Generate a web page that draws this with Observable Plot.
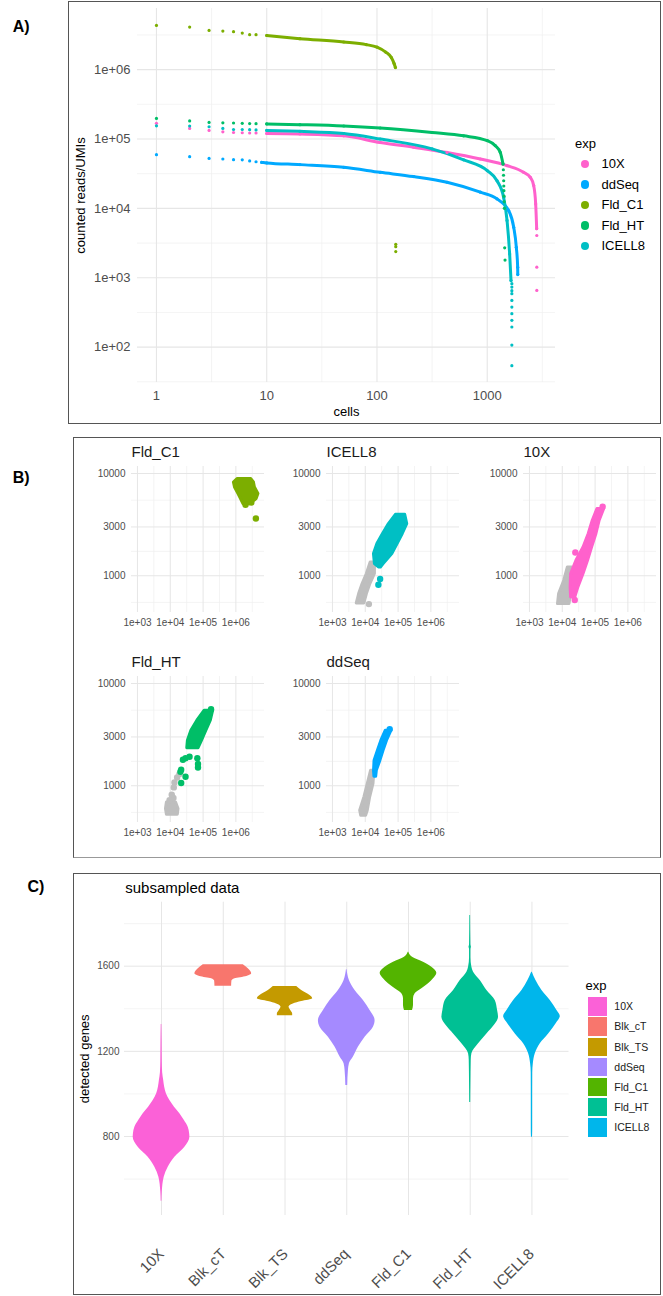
<!DOCTYPE html>
<html><head><meta charset="utf-8">
<script src="https://cdn.jsdelivr.net/npm/d3@7"></script>
<script src="https://cdn.jsdelivr.net/npm/@observablehq/plot@0.6"></script>
<style>
body{margin:0;background:#fff;font-family:"Liberation Sans",Arial,Helvetica,sans-serif;}
#page{position:relative;width:663px;height:1296px;overflow:hidden;background:#fff;}
.box{position:absolute;border:1.5px solid #555;box-sizing:border-box;}
.lab{position:absolute;font-weight:bold;font-size:16px;line-height:16px;color:#000;}
.t{position:absolute;white-space:nowrap;color:#000;}
</style></head><body><div id="page"></div>
<script>
// ---------- Panel A data: counted reads/UMIs by cell rank ----------
const expsA = ["10X","ddSeq","Fld_C1","Fld_HT","ICELL8"];
const colorsA = ["#FF61CC","#00A9FF","#7CAE00","#00BE67","#00BFC4"];
const xTicksA = [1,10,100,1000];
const xMinorA = [3.162,31.62,316.2,3162];
const yTicksA = [1e2,1e3,1e4,1e5,1e6];
const yMinorA = [31.62,316.2,3162,31623,316228,3162278];

const rank10X = [1,2,3,4,5,6,7,8,10,20,50,107,215,432,866,1512,2138,2460,2638,2750,2808];
const umi10X  = [1.68e5,1.42e5,1.33e5,1.27e5,1.24e5,1.23e5,1.22e5,1.22e5,1.2e5,1.18e5,1.11e5,8.9e4,7.6e4,6.4e4,5.15e4,4.13e4,3.31e4,2.8e4,2.13e4,1.16e4,5.1e3];
const rank10XTail = [2815,2815,2815];
const umi10XTail  = [4060,1420,656];

const rankDdSeq = [1,2,3,4,5,6,7,8,9,10,20,50,107,215,432,866,1227,1563,1738,1836,1888,1892];
const umiDdSeq  = [5.95e4,5.56e4,5.25e4,5.15e4,5.04e4,5.0e4,4.82e4,4.7e4,4.6e4,4.52e4,4.27e4,3.9e4,3.31e4,2.87e4,2.38e4,1.71e4,1.37e4,9.3e3,5.35e3,2.75e3,1.42e3,1.11e3];

const rankFldC1 = [1,2,3,4,5,6,7,8,10,20,50,80,100,120,135,143,147];
const umiFldC1  = [4.34e6,4.1e6,3.67e6,3.59e6,3.52e6,3.36e6,3.19e6,3.19e6,3.1e6,2.79e6,2.5e6,2.29e6,2.11e6,1.79e6,1.49e6,1.22e6,1.07e6];
const rankFldC1Tail = [148,148,148];
const umiFldC1Tail  = [3030,2800,2380];

const rankFldHT = [1,2,3,4,5,6,7,8,10,20,50,107,316,611,1000,1184,1314,1390];
const umiFldHT  = [1.98e5,1.82e5,1.73e5,1.71e5,1.7e5,1.68e5,1.67e5,1.66e5,1.65e5,1.61e5,1.54e5,1.44e5,1.24e5,1.11e5,9.46e4,8.0e4,6.4e4,4.37e4];
const rankFldHTTail = [1400,1405,1410,1413,1416,1420,1425,1430,1440,1450];
const umiFldHTTail  = [3.6e4,3.0e4,2.5e4,2.1e4,1.8e4,1.5e4,1.25e4,1.0e4,2.7e3,1.8e3];

const rankIcell8 = [1,2,3,4,5,6,7,8,10,20,50,107,316,611,1000,1227,1408,1512,1597,1643];
const umiIcell8  = [1.55e5,1.54e5,1.5e5,1.42e5,1.37e5,1.37e5,1.36e5,1.35e5,1.33e5,1.29e5,1.2e5,1.0e5,7.2e4,5.0e4,3.5e4,2.5e4,1.44e4,6.7e3,2.2e3,910];
const rankIcell8Tail = [1672,1672,1672,1672,1672,1672,1672,1672,1672,1672,1672];
const umiIcell8Tail  = [820,733,650,589,471,378,303,243,195,107,54];

// ---------- Panel B data: detected genes vs reads ----------
// blobs: [genes, lowest reads, highest reads]; dots: [reads, genes]
const bXTicks = [1e3,1e4,1e5,1e6];
const bXMinor = [3162,31623,316228,3162278];
const bYTicks = [1000,3000,10000];
const bYMinor = [548,1732,5477];

const fldC1Blob = [[5010,1.7e6,2.75e6],[5620,1.43e6,4.29e6],[6290,1.2e6,4.86e6],[7300,9.4e5,3.8e6],[8160,8.7e5,3.55e6],[8810,1.12e6,2.95e6]];
const fldC1Dots = [[2.95e6,5210],[1.97e6,4940],[4.07e6,3630]];

const icell8Blob = [[1205,2.6e4,3.0e4],[1300,1.97e4,3.63e4],[1630,1.84e4,6.68e4],[2040,2.34e4,9.66e4],[2560,3.47e4,1.39e5],[3200,5.25e4,1.9e5],[3945,8.57e4,1.65e5]];
const icell8Dots = [[2.84e4,929],[2.51e4,817]];
const icell8GreyBlob = [[536,5.5e3,9.4e3],[662,6.5e3,1.12e4],[830,8.3e3,1.43e4],[1040,1.12e4,1.97e4],[1350,1.46e4,1.97e4]];
const icell8GreyDots = [[1.29e4,528]];

const tenxBlob = [[614,1.86e4,2.5e4],[770,1.8e4,3.1e4],[1040,1.86e4,4.45e4],[1400,2.7e4,6.1e4],[1890,4.45e4,8.1e4],[2560,6.4e4,1.1e5],[3450,8.5e4,1.38e5],[4490,1.18e5,1.9e5]];
const tenxDots = [[1.7e5,4720],[2.4e4,580],[2.5e4,1690]];
const tenxGreyBlob = [[528,7.4e3,1.66e4],[662,8e3,1.86e4],[893,1.15e4,1.86e4],[1205,1.48e4,2e4]];
const tenxGreyDots = [];

const fldHTBlob = [[2330,3.3e4,7.3e4],[2760,3.45e4,9.3e4],[3450,4.4e4,1.26e5],[4320,6.7e4,1.72e5],[5410,1.12e5,2.03e5]];
const fldHTDots = [[2.43e4,1795],[2.92e4,1862],[3.87e4,1918],[6.68e4,1862],[7.0e4,1629],[7.0e4,1510],[2.15e4,1432],[2.04e4,1370],[2.92e4,1225],[2.15e4,1062],[1.75e5,5600]];
const fldHTGreyBlob = [[521,7.9e3,1.7e4],[592,7.4e3,1.78e4],[687,7.9e3,1.5e4]];
const fldHTGreyDots = [[1.9e4,1300],[1.62e4,1205],[1.34e4,1077],[1.28e4,963],[1.11e4,817],[1.25e4,760],[9.5e3,720]];

const ddSeqBlob = [[1225,1.9e4,2.15e4],[1400,1.85e4,2.25e4],[1760,1.92e4,2.9e4],[2200,2.43e4,3.6e4],[2760,3.1e4,4.6e4],[3450,4.2e4,6.3e4]];
const ddSeqDots = [[5.56e4,3580]];
const ddSeqGreyBlob = [[509,7.5e3,1.06e4],[570,7e3,1.19e4],[770,9.4e3,1.41e4],[1040,1.19e4,1.78e4],[1400,1.5e4,1.9e4]];
const ddSeqGreyDots = [];

// ---------- Panel C data: violin profiles [detected genes, relative half width] ----------
const catsC = ["10X","Blk_cT","Blk_TS","ddSeq","Fld_C1","Fld_HT","ICELL8"];
const colorsC = ["#FB61D7","#F8766D","#C49A00","#A58AFF","#53B400","#00C094","#00B6EB"];
const yTicksC = [800,1200,1600];
const yMinorC = [600,1000,1400,1800];
const violin10X = [[496,0.006],[540,0.012],[609,0.043],[656,0.108],[703,0.216],[750,0.378],[797,0.459],[813,0.455],[844,0.432],[875,0.37],[907,0.297],[938,0.21],[969,0.135],[1000,0.08],[1032,0.05],[1063,0.035],[1100,0.018],[1150,0.012],[1250,0.009],[1326,0.005]];
const violinBlkCT = [[1506,0.135],[1530,0.14],[1541,0.19],[1552,0.38],[1564,0.46],[1588,0.405],[1607,0.324]];
const violinBlkTS = [[1367,0.124],[1376,0.124],[1392,0.092],[1408,0.065],[1423,0.135],[1434,0.27],[1447,0.449],[1462,0.405],[1486,0.27],[1505,0.19]];
const violinDdSeq = [[1040,0.015],[1110,0.027],[1142,0.043],[1173,0.108],[1220,0.19],[1266,0.297],[1313,0.432],[1345,0.459],[1392,0.378],[1439,0.27],[1486,0.135],[1533,0.043],[1583,0.005]];
const violinFldC1 = [[1392,0.065],[1415,0.081],[1447,0.081],[1470,0.108],[1494,0.216],[1517,0.324],[1541,0.405],[1567,0.459],[1595,0.378],[1619,0.243],[1642,0.065],[1666,0.005]];
const violinFldHT = [[960,0.008],[1050,0.011],[1158,0.016],[1189,0.027],[1236,0.135],[1282,0.27],[1321,0.389],[1360,0.459],[1392,0.443],[1439,0.405],[1486,0.27],[1533,0.162],[1572,0.054],[1595,0.027],[1640,0.011],[1680,0.011],[1689,0.02],[1700,0.011],[1838,0.006]];
const violinIcell8 = [[797,0.008],[830,0.011],[969,0.011],[1100,0.012],[1142,0.022],[1189,0.054],[1236,0.135],[1282,0.27],[1329,0.389],[1364,0.459],[1392,0.405],[1439,0.297],[1486,0.162],[1533,0.065],[1572,0.005]];

// ---------- build ----------
const page = document.getElementById("page");
const FONT = "'Liberation Sans', Arial, Helvetica, sans-serif";
const GRID = "#e6e6e6", GRIDMINOR = "#efefef", TICK = "#4d4d4d";
function place(el, left, top){ el.style.position="absolute"; el.style.left=left+"px"; el.style.top=top+"px"; el.style.maxWidth="none"; page.appendChild(el); return el; }
const sci = d => "1e+0" + Math.round(Math.log10(d));
const rowsOf = (exp, ranks, vals) => ranks.map((r,i) => ({exp, rank: r, v: vals[i]}));

const mainA = [
  ...rowsOf("10X", rank10X, umi10X),
  ...rowsOf("ddSeq", rankDdSeq, umiDdSeq),
  ...rowsOf("Fld_C1", rankFldC1, umiFldC1),
  ...rowsOf("Fld_HT", rankFldHT, umiFldHT),
  ...rowsOf("ICELL8", rankIcell8, umiIcell8)
];
const tailA = [
  ...rowsOf("10X", rank10XTail, umi10XTail),
  ...rowsOf("Fld_C1", rankFldC1Tail, umiFldC1Tail),
  ...rowsOf("Fld_HT", rankFldHTTail, umiFldHTTail),
  ...rowsOf("ICELL8", rankIcell8Tail, umiIcell8Tail)
];

const plotA = Plot.plot({
  width: 663, height: 424, marginLeft: 137, marginRight: 108, marginTop: 8, marginBottom: 42,
  style: {fontFamily: FONT, background: "none", overflow: "visible"},
  x: {type: "log", domain: [0.673, 4160], axis: null},
  y: {type: "log", domain: [30.9, 7.6e6], axis: null},
  color: {domain: expsA, range: colorsA},
  marks: [
    Plot.ruleX(xMinorA, {x: d => d, stroke: GRIDMINOR, strokeWidth: 0.7}),
    Plot.ruleY(yMinorA, {y: d => d, stroke: GRIDMINOR, strokeWidth: 0.7}),
    Plot.ruleX(xTicksA, {x: d => d, stroke: GRID, strokeWidth: 1.1}),
    Plot.ruleY(yTicksA, {y: d => d, stroke: GRID, strokeWidth: 1.1}),
    Plot.text(xTicksA, {x: d => d, frameAnchor: "bottom", dy: 13, lineAnchor: "middle", textAnchor: "middle", text: d => String(d), fontSize: 13, fill: TICK}),
    Plot.text(yTicksA, {y: d => d, frameAnchor: "left", dx: -7, lineAnchor: "middle", textAnchor: "end", text: sci, fontSize: 13, fill: TICK}),
    Plot.text(["cells"], {frameAnchor: "bottom", dy: 29, lineAnchor: "middle", textAnchor: "middle", text: d => d, fontSize: 13, fill: "#000"}),
    Plot.text(["counted reads/UMIs"], {frameAnchor: "left", dx: -57, rotate: -90, lineAnchor: "middle", textAnchor: "middle", text: d => d, fontSize: 13, fill: "#000"}),
    Plot.line(mainA, {filter: d => d.rank >= 9, x: "rank", y: "v", z: "exp", stroke: "exp", strokeWidth: 3, curve: "monotone-x"}),
    Plot.dot(mainA, {x: "rank", y: "v", fill: "exp", r: 1.6}),
    Plot.dot(tailA, {x: "rank", y: "v", fill: "exp", r: 1.6})
  ]
});
place(plotA, 0, 0);

// legend A
function addText(txt, left, cy, size, color, extra){
  const d = document.createElement("div"); d.className = "t"; d.textContent = txt;
  d.style.left = left + "px"; d.style.top = (cy - size*0.6) + "px";
  d.style.fontSize = size + "px"; d.style.lineHeight = (size*1.2) + "px";
  if (color) d.style.color = color;
  if (extra) Object.assign(d.style, extra);
  page.appendChild(d); return d;
}
addText("exp", 575, 143.5, 13);
expsA.forEach((e, i) => {
  const cy = 164 + i*20.5;
  const c = document.createElement("div");
  Object.assign(c.style, {position:"absolute", left:(585-4.4)+"px", top:(cy-4.4)+"px", width:"8.8px", height:"8.8px", borderRadius:"50%", background: colorsA[i]});
  page.appendChild(c);
  addText(e, 601.5, cy, 13);
});

// Panel B facets
const colPanelLeft = [130.7, 326.4, 522.7];
const rowPanelTop = [465.7, 675.7];
function facet(name, col, row, color, blob, dots, greyBlob, greyDots){
  const ML = 40, MT = 25;
  const p = Plot.plot({
    width: ML + 133 + 3, height: MT + 146 + 20, marginLeft: ML, marginRight: 3, marginTop: MT, marginBottom: 20,
    style: {fontFamily: FONT, background: "none", overflow: "visible"},
    x: {type: "log", domain: [658, 7.45e6], axis: null},
    y: {type: "log", domain: [437, 11700], axis: null},
    marks: [
      Plot.ruleX(bXMinor, {x: d => d, stroke: GRIDMINOR, strokeWidth: 0.7}),
      Plot.ruleY(bYMinor, {y: d => d, stroke: GRIDMINOR, strokeWidth: 0.7}),
      Plot.ruleX(bXTicks, {x: d => d, stroke: GRID, strokeWidth: 1}),
      Plot.ruleY(bYTicks, {y: d => d, stroke: GRID, strokeWidth: 1}),
      Plot.text(bXTicks, {x: d => d, frameAnchor: "bottom", dy: 10, lineAnchor: "middle", textAnchor: "middle", text: sci, fontSize: 10, fill: TICK}),
      Plot.text(bYTicks, {y: d => d, frameAnchor: "left", dx: -6, lineAnchor: "middle", textAnchor: "end", text: d => String(d), fontSize: 10, fill: TICK}),
      Plot.text([name], {frameAnchor: "top-left", dy: -14, lineAnchor: "middle", textAnchor: "start", text: d => d, fontSize: 15, fill: "#1a1a1a"}),
      Plot.areaX(greyBlob, {y: d => d[0], x1: d => d[1], x2: d => d[2], fill: "#BEBEBE", stroke: "#BEBEBE", strokeWidth: 3, strokeLinejoin: "round"}),
      Plot.dot(greyDots, {x: d => d[0], y: d => d[1], r: 3.2, fill: "#BEBEBE"}),
      Plot.areaX(blob, {y: d => d[0], x1: d => d[1], x2: d => d[2], fill: color, stroke: color, strokeWidth: 3, strokeLinejoin: "round"}),
      Plot.dot(dots, {x: d => d[0], y: d => d[1], r: 3.2, fill: color})
    ]
  });
  place(p, colPanelLeft[col] - ML, rowPanelTop[row] - MT);
}
facet("Fld_C1", 0, 0, "#7CAE00", fldC1Blob, fldC1Dots, [], []);
facet("ICELL8", 1, 0, "#00BFC4", icell8Blob, icell8Dots, icell8GreyBlob, icell8GreyDots);
facet("10X", 2, 0, "#FF61CC", tenxBlob, tenxDots, tenxGreyBlob, tenxGreyDots);
facet("Fld_HT", 0, 1, "#00BE67", fldHTBlob, fldHTDots, fldHTGreyBlob, fldHTGreyDots);
facet("ddSeq", 1, 1, "#00A9FF", ddSeqBlob, ddSeqDots, ddSeqGreyBlob, ddSeqGreyDots);

// Panel C
const profiles = [violin10X, violinBlkCT, violinBlkTS, violinDdSeq, violinFldC1, violinFldHT, violinIcell8];
const violinRows = profiles.flatMap((prof, i) => prof.map(([g, w]) => ({exp: catsC[i], i, g, w})));
const C_TOP = 873, C_H = 423, C_MB = 81;
const plotC = Plot.plot({
  width: 663, height: C_H, marginLeft: 124, marginRight: 94.5, marginTop: 28.7, marginBottom: C_MB,
  style: {fontFamily: FONT, background: "none", overflow: "visible"},
  x: {domain: [-0.6, 6.6], axis: null},
  y: {domain: [429, 1900.6], axis: null},
  color: {domain: catsC, range: colorsC},
  marks: [
    Plot.ruleY(yMinorC, {y: d => d, stroke: GRIDMINOR, strokeWidth: 0.7}),
    Plot.ruleX(catsC, {x: (d, i) => i, stroke: GRID, strokeWidth: 1}),
    Plot.ruleY(yTicksC, {y: d => d, stroke: GRID, strokeWidth: 1}),
    Plot.text(yTicksC, {y: d => d, frameAnchor: "left", dx: -5, lineAnchor: "middle", textAnchor: "end", text: d => String(d), fontSize: 10, fill: TICK}),
    Plot.text(["detected genes"], {frameAnchor: "left", dx: -39.4, rotate: -90, lineAnchor: "middle", textAnchor: "middle", text: d => d, fontSize: 13, fill: "#000"}),
    Plot.text(["subsampled data"], {frameAnchor: "top-left", dx: 0.7, dy: -14.4, lineAnchor: "middle", textAnchor: "start", text: d => d, fontSize: 15, fill: "#000"}),
    Plot.areaX(violinRows, {y: "g", x1: d => d.i - d.w, x2: d => d.i + d.w, z: "exp", fill: "exp", curve: "monotone-y"})
  ]
});
place(plotC, 0, C_TOP);
// rotated category labels, positioned with the chart's own x scale
const xScaleC = plotC.scale("x");
const labelY = C_TOP + C_H - C_MB + 36;
catsC.forEach((c, i) => {
  const ax = xScaleC.apply(i);
  const d = document.createElement("div");
  d.className = "t"; d.textContent = c;
  Object.assign(d.style, {left: ax + "px", top: labelY + "px", fontSize: "15px", lineHeight: "17px", color: TICK,
    transformOrigin: "100% 50%", transform: "translate(-100%, -50%) rotate(-45deg)"});
  page.appendChild(d);
});

// legend C
addText("exp", 585.6, 986, 13);
catsC.forEach((c, i) => {
  const top = 997.3 + i*20.1;
  const s = document.createElement("div");
  Object.assign(s.style, {position:"absolute", left:"587.7px", top: top+"px", width:"19px", height:"18.7px", background: colorsC[i]});
  page.appendChild(s);
  addText(c, 614.3, top + 9.35, 10.5, "#1a1a1a");
});

// boxes & panel labels (on top)
function box(l, t, w, h, extra){ const b = document.createElement("div"); b.className = "box"; Object.assign(b.style, {left:l+"px", top:t+"px", width:w+"px", height:h+"px"}, extra||{}); page.appendChild(b); }
box(68, 1, 593, 423);
box(73, 437, 588, 421, {borderBottomColor: "#999"});
box(73, 873, 588, 422);
function lab(t, l, cy){ const d = document.createElement("div"); d.className = "lab"; d.textContent = t; d.style.left = l+"px"; d.style.top = (cy-8)+"px"; page.appendChild(d); }
lab("A)", 12.7, 27);
lab("B)", 12.7, 478.3);
lab("C)", 27.5, 886.7);
</script></body></html>
